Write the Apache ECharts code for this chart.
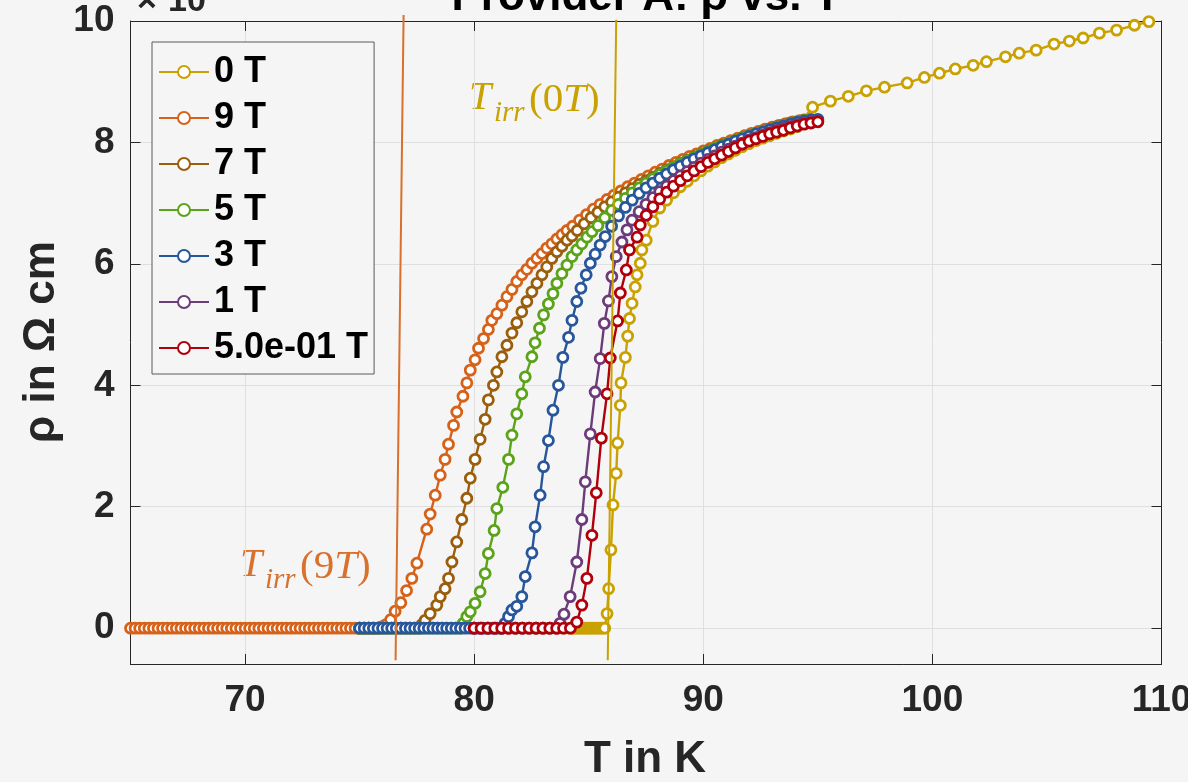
<!DOCTYPE html>
<html><head><meta charset="utf-8">
<script src="https://cdn.jsdelivr.net/npm/echarts@6/dist/echarts.min.js"></script>
<style>html,body{margin:0;padding:0;background:#f5f5f5;}#c{width:1188px;height:782px;}</style>
</head><body><div id="c"></div>
<script>
const seriesNames = ['0 T','9 T','7 T','5 T','3 T','1 T','5.0e-01 T'];
const seriesColors = ['#C9A100','#D6621A','#9A5E0C','#5BA319','#27569A','#6C3B7A','#B0000C'];
const xTicks = [70,80,90,100,110];
const yTicks = [0,2,4,6,8,10];

const d0T = [[80.0,0],[80.3,0],[80.6,0],[80.9,0],[81.2,0],[81.5,0],[81.8,0],[82.1,0],[82.4,0],[82.7,0],[83.0,0],[83.3,0],[83.6,0],[83.9,0],[84.2,0],
[84.3,0],[84.4,0],[84.5,0],[84.6,0],[84.7,0],[84.8,0],[84.9,0],[85.0,0],[85.1,0],[85.2,0],[85.3,0],[85.4,0],[85.5,0],[85.6,0],[85.7,0],
[85.8,0.24],[85.87,0.65],[85.97,1.29],[86.06,2.03],[86.2,2.55],[86.26,3.05],[86.38,3.67],[86.41,4.04],[86.6,4.46],[86.7,4.81],[86.78,5.1],[86.89,5.35],[87.03,5.62],[87.11,5.82],[87.25,6.01],[87.32,6.23],[87.51,6.39],[87.8,6.7],[88.1,6.92],[88.4,7.05],[88.7,7.17],[89.0,7.27],[89.3,7.36],[89.6,7.45],[89.9,7.53],[90.2,7.61],[90.5,7.68],[90.8,7.75],[91.1,7.81],[91.4,7.87],[91.7,7.93],[92.0,7.98],[92.3,8.03],[92.6,8.07],[92.9,8.11],[93.2,8.15],[93.5,8.19],[93.8,8.22],[94.1,8.26],
[94.77,8.58],[95.55,8.68],[96.33,8.76],[97.12,8.85],[97.91,8.91],[98.9,8.98],[99.65,9.07],[100.31,9.14],[101.0,9.21],[101.78,9.27],[102.36,9.33],[103.19,9.41],[103.79,9.47],[104.53,9.52],[105.31,9.62],[105.98,9.67],[106.58,9.72],[107.29,9.8],[108.04,9.85],[108.82,9.93],[109.45,9.99]];

const d9T = [[65.0,0],[65.2,0],[65.4,0],[65.6,0],[65.8,0],[66.0,0],[66.2,0],[66.4,0],[66.6,0],[66.8,0],[67.0,0],[67.2,0],[67.4,0],[67.6,0],[67.8,0],[68.0,0],[68.2,0],[68.4,0],[68.6,0],[68.8,0],[69.0,0],[69.2,0],[69.4,0],[69.6,0],[69.8,0],[70.0,0],[70.2,0],[70.4,0],[70.6,0],[70.8,0],[71.0,0],[71.2,0],[71.4,0],[71.6,0],[71.8,0],[72.0,0],[72.2,0],[72.4,0],[72.6,0],[72.8,0],[73.0,0],[73.2,0],[73.4,0],[73.6,0],[73.8,0],[74.0,0],[74.2,0],[74.4,0],[74.6,0],[74.8,0],[75.0,0],[75.2,0],[75.4,0],[75.6,0],[75.8,0],
[75.95,0.02],[76.15,0.06],[76.35,0.14],[76.55,0.28],[76.8,0.42],[77.05,0.62],[77.28,0.82],[77.5,1.07],[77.93,1.63],[78.08,1.88],[78.3,2.19],[78.52,2.52],[78.73,2.78],[78.88,3.03],[79.1,3.34],[79.24,3.56],[79.51,3.82],[79.68,4.04],[79.83,4.25],[80.04,4.42],[80.19,4.61],[80.41,4.77],[80.62,4.92],[80.77,5.07],[80.99,5.18],[81.21,5.32],[81.43,5.46],[81.65,5.58],[81.86,5.71],[82.08,5.82],[82.3,5.91],[82.52,6.01],[82.74,6.09],[82.96,6.17],[83.17,6.26],[83.39,6.33],[83.61,6.41],[83.83,6.48],[84.05,6.55],
[84.3,6.62],[84.6,6.72],[84.9,6.81],[85.2,6.9],[85.5,6.98],[85.8,7.06],[86.1,7.13],[86.4,7.2],[86.7,7.27],[87.0,7.33],[87.3,7.39],[87.6,7.45],[87.9,7.51],[88.2,7.56],[88.5,7.62],[88.8,7.67],[89.1,7.72],[89.4,7.77],[89.7,7.81],[90.0,7.86],[90.3,7.9],[90.6,7.95],[90.9,7.99],[91.2,8.03],[91.5,8.07],[91.8,8.11],[92.1,8.15],[92.4,8.18],[92.7,8.22],[93.0,8.25],[93.3,8.28],[93.6,8.31],[93.9,8.34],[94.2,8.36]];

const d7T = [[75.0,0],[75.2,0],[75.4,0],[75.6,0],[75.8,0],[76.0,0],[76.2,0],[76.4,0],[76.6,0],[76.8,0],[77.0,0],[77.2,0],[77.4,0],[77.6,0],
[77.72,0.06],[77.86,0.13],[78.08,0.24],[78.37,0.38],[78.52,0.52],[78.73,0.65],[78.88,0.82],[79.03,1.09],[79.24,1.42],[79.46,1.79],[79.68,2.14],[79.83,2.47],[80.04,2.78],[80.26,3.11],[80.48,3.44],[80.62,3.76],[80.84,4.0],[80.99,4.22],[81.21,4.47],[81.43,4.66],[81.65,4.86],[81.86,5.03],[82.08,5.21],[82.3,5.38],[82.52,5.54],[82.74,5.68],[82.96,5.82],[83.17,5.95],[83.39,6.09],[83.61,6.2],[83.83,6.29],[84.05,6.39],[84.27,6.46],
[84.5,6.55],[84.8,6.66],[85.1,6.76],[85.4,6.85],[85.7,6.94],[86.0,7.02],[86.3,7.1],[86.6,7.17],[86.9,7.24],[87.2,7.31],[87.5,7.37],[87.8,7.43],[88.1,7.49],[88.4,7.55],[88.7,7.6],[89.0,7.66],[89.3,7.71],[89.6,7.76],[89.9,7.81],[90.2,7.86],[90.5,7.9],[90.8,7.95],[91.1,7.99],[91.4,8.03],[91.7,8.07],[92.0,8.11],[92.3,8.15],[92.6,8.19],[92.9,8.22],[93.2,8.26],[93.5,8.29],[93.8,8.32],[94.1,8.34],[94.4,8.37]];

const d5T = [[75.0,0],[75.2,0],[75.4,0],[75.6,0],[75.8,0],[76.0,0],[76.2,0],[76.4,0],[76.6,0],[76.8,0],[77.0,0],[77.2,0],[77.4,0],[77.6,0],[77.8,0],[78.0,0],[78.2,0],[78.4,0],[78.6,0],[78.8,0],[79.0,0],[79.2,0],[79.4,0],
[79.52,0.08],[79.68,0.19],[79.83,0.27],[80.04,0.41],[80.26,0.6],[80.48,0.9],[80.62,1.23],[80.87,1.61],[80.99,1.97],[81.25,2.32],[81.5,2.78],[81.65,3.18],[81.86,3.53],[82.08,3.86],[82.23,4.14],[82.52,4.47],[82.66,4.7],[82.85,4.94],[83.03,5.16],[83.24,5.34],[83.44,5.51],[83.61,5.68],[83.83,5.84],[84.05,5.98],[84.27,6.12],[84.48,6.23],[84.7,6.33],[84.92,6.44],[85.14,6.53],
[85.4,6.63],[85.7,6.76],[86.0,6.88],[86.3,6.98],[86.6,7.08],[86.9,7.17],[87.2,7.25],[87.5,7.33],[87.8,7.4],[88.1,7.47],[88.4,7.53],[88.7,7.59],[89.0,7.65],[89.3,7.7],[89.6,7.75],[89.9,7.8],[90.2,7.85],[90.5,7.9],[90.8,7.94],[91.1,7.99],[91.4,8.03],[91.7,8.07],[92.0,8.11],[92.3,8.15],[92.6,8.18],[92.9,8.22],[93.2,8.25],[93.5,8.28],[93.8,8.31],[94.1,8.34],[94.4,8.36],[94.7,8.38]];

const d3T = [[75.0,0],[75.2,0],[75.4,0],[75.6,0],[75.8,0],[76.0,0],[76.2,0],[76.4,0],[76.6,0],[76.8,0],[77.0,0],[77.2,0],[77.4,0],[77.6,0],[77.8,0],[78.0,0],[78.2,0],[78.4,0],[78.6,0],[78.8,0],[79.0,0],[79.2,0],[79.4,0],[79.6,0],[79.8,0],[80.0,0],[80.2,0],[80.4,0],[80.6,0],[80.8,0],[81.0,0],[81.2,0],
[81.35,0.08],[81.5,0.19],[81.65,0.3],[81.86,0.36],[82.08,0.52],[82.23,0.85],[82.52,1.24],[82.66,1.67],[82.88,2.19],[83.03,2.66],[83.24,3.09],[83.44,3.59],[83.68,4.0],[83.87,4.46],[84.12,4.79],[84.27,5.07],[84.48,5.38],[84.66,5.6],[84.89,5.82],[85.07,6.01],[85.28,6.16],[85.5,6.31],[85.72,6.45],
[86.0,6.62],[86.3,6.79],[86.6,6.93],[86.9,7.05],[87.2,7.16],[87.5,7.25],[87.8,7.33],[88.1,7.41],[88.4,7.48],[88.7,7.55],[89.0,7.61],[89.3,7.67],[89.6,7.73],[89.9,7.78],[90.2,7.83],[90.5,7.88],[90.8,7.93],[91.1,7.97],[91.4,8.02],[91.7,8.06],[92.0,8.1],[92.3,8.14],[92.6,8.17],[92.9,8.21],[93.2,8.24],[93.5,8.27],[93.8,8.3],[94.1,8.33],[94.4,8.35],[94.7,8.37],[95.0,8.38]];

const d1T = [[80.0,0],[80.3,0],[80.6,0],[80.9,0],[81.2,0],[81.5,0],[81.8,0],[82.1,0],[82.4,0],[82.7,0],[83.0,0],[83.3,0],[83.6,0],
[83.75,0.08],[83.92,0.23],[84.19,0.52],[84.48,1.09],[84.7,1.79],[84.85,2.41],[85.07,3.2],[85.28,3.89],[85.5,4.44],[85.68,5.02],[85.86,5.39],[86.01,5.79],[86.2,6.12],[86.45,6.36],[86.67,6.56],[86.89,6.72],
[87.2,6.86],[87.5,6.98],[87.8,7.09],[88.1,7.19],[88.4,7.28],[88.7,7.37],[89.0,7.45],[89.3,7.52],[89.6,7.59],[89.9,7.66],[90.2,7.72],[90.5,7.78],[90.8,7.84],[91.1,7.89],[91.4,7.94],[91.7,7.99],[92.0,8.04],[92.3,8.08],[92.6,8.12],[92.9,8.16],[93.2,8.2],[93.5,8.23],[93.8,8.26],[94.1,8.29],[94.4,8.31],[94.7,8.33],[95.0,8.35]];

const d05T = [[80.0,0],[80.3,0],[80.6,0],[80.9,0],[81.2,0],[81.5,0],[81.8,0],[82.1,0],[82.4,0],[82.7,0],[83.0,0],[83.3,0],[83.6,0],[83.9,0],[84.2,0],
[84.48,0.1],[84.7,0.38],[84.92,0.82],[85.14,1.53],[85.33,2.23],[85.55,3.13],[85.8,3.86],[85.94,4.45],[86.26,5.06],[86.38,5.52],[86.64,5.9],[86.78,6.23],[87.11,6.44],[87.25,6.64],[87.51,6.8],[87.8,6.94],
[88.1,7.07],[88.4,7.18],[88.7,7.28],[89.0,7.37],[89.3,7.45],[89.6,7.53],[89.9,7.6],[90.2,7.67],[90.5,7.73],[90.8,7.79],[91.1,7.85],[91.4,7.91],[91.7,7.97],[92.0,8.02],[92.3,8.06],[92.6,8.1],[92.9,8.14],[93.2,8.17],[93.5,8.2],[93.8,8.24],[94.1,8.27],[94.4,8.3],[94.7,8.32],[95.0,8.34]];

const tirr9Line = [[76.92,10.1],[76.57,-0.53]];
const tirr0Line = [[86.2,10.02],[85.83,-0.53]];

const seriesData = [d0T,d9T,d7T,d5T,d3T,d1T,d05T];

const FONT = '"Liberation Sans", Arial, Helvetica, sans-serif';
const SERIF = '"Liberation Serif", "DejaVu Serif", serif';
const BG = '#f5f5f5';
const AX = '#262626';
const C0 = '#C9A100', C9 = '#D9702C';

const chart = echarts.init(document.getElementById('c'), null, {renderer:'canvas'});

const series = seriesNames.map((n,i)=>({
  name:n, type:'line', data:seriesData[i], symbol:'circle', symbolSize:10, showAllSymbol:true,
  lineStyle:{width:2.4,color:seriesColors[i]},
  itemStyle:{color:'#ffffff', borderColor:seriesColors[i], borderWidth:2.8},
  animation:false, z:2
}));
series.push({name:'Tirr9', type:'line', data:tirr9Line, showSymbol:false, clip:false, silent:true, animation:false, z:4, lineStyle:{width:2,color:C9}});
series.push({name:'Tirr0', type:'line', data:tirr0Line, showSymbol:false, clip:false, silent:true, animation:false, z:4, lineStyle:{width:2,color:C0}});

const xLab = v => xTicks.indexOf(v) >= 0 ? String(v) : '';
const yLab = v => yTicks.indexOf(v) >= 0 ? String(v) : '';

const tickStyle = {fontSize:37, fontWeight:'bold', color:AX, fontFamily:FONT};

function gtext(x,y,text,font,fill,align,extra,rich){
  const st = {text:text, font:font, fill:fill, align:align||'left', verticalAlign:'middle'};
  if (rich) st.rich = rich;
  return Object.assign({type:'text', x:x, y:y, silent:true, style:st}, extra||{});
}
function parenRich(color){
  return {u:{fontFamily:SERIF, fontSize:41, fontStyle:'normal', color:color},
          i:{fontFamily:SERIF, fontSize:41, fontStyle:'italic', color:color}};
}

const option = {
  backgroundColor: BG,
  animation:false,
  textStyle:{fontFamily:FONT},
  grid:{left:130.5, right:26.5, top:21, bottom:118, containLabel:false, outerBoundsMode:'none', show:false},
  legend:{data:seriesNames, orient:'vertical', left:152, top:42, padding:[12,6,8,6], itemGap:10, itemWidth:50, itemHeight:15,
    backgroundColor:BG, borderColor:'#5a5a5a', borderWidth:1, borderRadius:0, selectedMode:false,
    textStyle:{fontSize:36, fontWeight:'bold', color:'#000', fontFamily:FONT, lineHeight:36, padding:[0,0,0,0]}},
  xAxis:[
    {type:'value', min:65, max:110, splitNumber:5, position:'bottom',
     axisLine:{show:true, onZero:false, lineStyle:{color:AX,width:1}},
     axisTick:{show:true, inside:true, length:10, lineStyle:{color:AX}},
     axisLabel:Object.assign({formatter:xLab, margin:18, showMinLabel:true, showMaxLabel:true, hideOverlap:false}, tickStyle),
     splitLine:{show:true, lineStyle:{color:'#dfdfdf',width:1}}},
    {type:'value', min:65, max:110, splitNumber:5, position:'top',
     axisLine:{show:true, onZero:false, lineStyle:{color:AX,width:1}},
     axisTick:{show:true, inside:true, length:10, lineStyle:{color:AX}},
     axisLabel:{show:false}, splitLine:{show:false}}
  ],
  yAxis:[
    {type:'value', min:-0.59, max:10, splitNumber:5, position:'left',
     axisLine:{show:true, onZero:false, lineStyle:{color:AX,width:1}},
     axisTick:{show:true, inside:true, length:10, lineStyle:{color:AX}},
     axisLabel:Object.assign({formatter:yLab, margin:16, showMinLabel:true, showMaxLabel:true}, tickStyle),
     splitLine:{show:true, lineStyle:{color:'#dfdfdf',width:1}}},
    {type:'value', min:-0.59, max:10, splitNumber:5, position:'right',
     axisLine:{show:true, onZero:false, lineStyle:{color:AX,width:1}},
     axisTick:{show:true, inside:true, length:10, lineStyle:{color:AX}},
     axisLabel:{show:false}, splitLine:{show:false}}
  ],
  series: series,
  graphic:[
    gtext(646,-2,'Provider A: ρ vs. T','bold 44px '+FONT,'#000','center'),
    gtext(137,2,'×','bold 34px '+FONT,AX,'left'),
    gtext(168,2,'10','bold 34px '+FONT,AX,'left'),
    gtext(206,-16,'-4','bold 24px '+FONT,AX,'left'),
    gtext(645,760,'T in K','bold 44px '+FONT,AX,'center'),
    gtext(42,342,'ρ in Ω cm','bold 44px '+FONT,AX,'center',{rotation:Math.PI/2}),
    gtext(469,98,'T','italic 40px '+SERIF,C0,'left'),
    gtext(494,113,'irr','italic 29px '+SERIF,C0,'left'),
    gtext(529,100,'{u|(0}{i|T}{u|)}','41px '+SERIF,C0,'left',null,parenRich(C0)),
    gtext(240,565,'T','italic 40px '+SERIF,C9,'left'),
    gtext(265,580,'irr','italic 29px '+SERIF,C9,'left'),
    gtext(300,567,'{u|(9}{i|T}{u|)}','41px '+SERIF,C9,'left',null,parenRich(C9))
  ]
};
chart.setOption(option);
</script>
</body></html>
